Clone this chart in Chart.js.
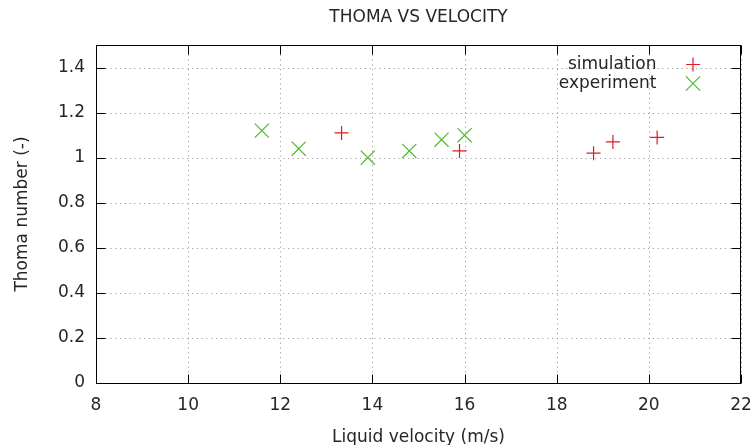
<!DOCTYPE html>
<html>
<head>
<meta charset="utf-8">
<script src="https://cdn.jsdelivr.net/npm/chart.js@4/dist/chart.umd.min.js"></script>
<style>
  html, body { margin: 0; padding: 0; background: #ffffff; }
  #wrap { width: 754px; height: 445px; }
</style>
</head>
<body>
<div id="wrap"><canvas id="c" width="754" height="445"></canvas></div>
<script>
// ---- data ----
const simVelocity = [13.33, 15.89, 18.80, 19.22, 20.18];
const simThoma    = [1.11, 1.03, 1.02, 1.07, 1.09];
const expVelocity = [11.60, 12.40, 13.90, 14.80, 15.50, 16.00];
const expThoma    = [1.12, 1.04, 1.00, 1.03, 1.08, 1.10];

const xTickValues = [8, 10, 12, 14, 16, 18, 20, 22];
const xTickLabels = ['8', '10', '12', '14', '16', '18', '20', '22'];
const yTickValues = [0, 0.2, 0.4, 0.6, 0.8, 1.0, 1.2, 1.4];
const yTickLabels = ['0', '0.2', '0.4', '0.6', '0.8', '1', '1.2', '1.4'];

const seriesLabels = ['simulation', 'experiment'];
const chartTitle = 'THOMA VS VELOCITY';
const xTitle = 'Liquid velocity (m/s)';
const yTitle = 'Thoma number (-)';

const FONT = 'DejaVu Sans';
const TEXT = '#262626';
const RED = 'rgb(222,28,36)';
const GREEN = 'rgb(84,184,48)';

const toPoints = (xs, ys) => xs.map((x, i) => ({ x: x, y: ys[i] }));

const frame = {
  id: 'frame',
  beforeDatasetsDraw(chart) {
    const { ctx, chartArea: a, scales } = chart;
    ctx.save();
    ctx.strokeStyle = '#a0a0a0';
    ctx.lineWidth = 1;
    ctx.setLineDash([1.2, 3.6]);
    scales.x.ticks.forEach(t => {
      const px = Math.round(scales.x.getPixelForValue(t.value)) + 0.5;
      ctx.beginPath(); ctx.moveTo(px, a.top); ctx.lineTo(px, a.bottom); ctx.stroke();
    });
    scales.y.ticks.forEach(t => {
      const py = Math.round(scales.y.getPixelForValue(t.value)) + 0.5;
      ctx.beginPath(); ctx.moveTo(a.left, py); ctx.lineTo(a.right, py); ctx.stroke();
    });
    ctx.restore();
  },
  afterDatasetsDraw(chart) {
    const { ctx, chartArea: a, scales } = chart;
    const L = Math.round(a.left) + 0.5, R = Math.round(a.right) - 0.5;
    const T = Math.round(a.top) + 0.5, B = Math.round(a.bottom) + 0.5;
    const tl = 9;
    ctx.save();
    ctx.strokeStyle = '#000';
    ctx.lineWidth = 1;
    ctx.setLineDash([]);
    ctx.strokeRect(L, T, R - L, B - T);
    ctx.beginPath();
    scales.x.ticks.forEach(t => {
      const px = Math.round(scales.x.getPixelForValue(t.value)) + 0.5;
      ctx.moveTo(px, B); ctx.lineTo(px, B - tl);
      ctx.moveTo(px, T); ctx.lineTo(px, T + tl);
    });
    scales.y.ticks.forEach(t => {
      const py = Math.round(scales.y.getPixelForValue(t.value)) + 0.5;
      ctx.moveTo(L, py); ctx.lineTo(L + tl, py);
      ctx.moveTo(R, py); ctx.lineTo(R - tl, py);
    });
    ctx.stroke();

    // legend (text right-aligned, sample to the right)
    ctx.font = '17px "' + FONT + '"';
    ctx.textAlign = 'right';
    ctx.textBaseline = 'middle';
    const textRight = 656.5, sampleX = 693, y0 = 64.5, dy = 19;
    chart.data.datasets.forEach((ds, i) => {
      const y = y0 + i * dy;
      ctx.fillStyle = TEXT;
      ctx.fillText(ds.label, textRight, y);
      ctx.strokeStyle = ds.borderColor;
      ctx.fillStyle = ds.borderColor;
      ctx.lineWidth = ds.pointBorderWidth;
      Chart.helpers.drawPoint(ctx, {
        pointStyle: ds.pointStyle,
        radius: ds.pointRadius,
        rotation: 0,
        borderWidth: ds.pointBorderWidth
      }, sampleX, y);
    });
    ctx.restore();
  }
};

const noPad = s => { s.paddingLeft = 0; s.paddingRight = 0; s.paddingTop = 0; s.paddingBottom = 0; };

const chart = new Chart(document.getElementById('c'), {
  type: 'scatter',
  data: {
    datasets: [
      {
        label: seriesLabels[0],
        data: toPoints(simVelocity, simThoma),
        pointStyle: 'cross',
        pointRadius: 7,
        pointHoverRadius: 7,
        pointBorderWidth: 1.2,
        borderColor: RED,
        backgroundColor: RED,
        showLine: false
      },
      {
        label: seriesLabels[1],
        data: toPoints(expVelocity, expThoma),
        pointStyle: 'crossRot',
        pointRadius: 10,
        pointHoverRadius: 10,
        pointBorderWidth: 1.2,
        borderColor: GREEN,
        backgroundColor: GREEN,
        showLine: false
      }
    ]
  },
  options: {
    responsive: false,
    animation: false,
    devicePixelRatio: 1,
    events: [],
    layout: { padding: { left: 0, right: 13, top: 0, bottom: 0 } },
    plugins: {
      legend: { display: false },
      tooltip: { enabled: false },
      title: {
        display: true,
        fullSize: false,
        text: chartTitle,
        color: TEXT,
        font: { family: FONT, size: 17, weight: 'normal', lineHeight: 1 },
        padding: { top: 9, bottom: 19 }
      }
    },
    scales: {
      x: {
        type: 'linear',
        position: 'bottom',
        min: 8,
        max: 22,
        afterBuildTicks: s => { s.ticks = xTickValues.map(v => ({ value: v })); },
        afterFit: s => { s.height = 62; noPad(s); },
        grid: { display: false, drawTicks: false },
        border: { display: false },
        ticks: {
          autoSkip: false,
          maxRotation: 0,
          padding: 12,
          color: TEXT,
          font: { family: FONT, size: 17 },
          callback: (v, i) => xTickLabels[i]
        },
        title: {
          display: true,
          text: xTitle,
          color: TEXT,
          font: { family: FONT, size: 17, lineHeight: 1 },
          padding: { top: 0, bottom: -1 }
        }
      },
      y: {
        type: 'linear',
        min: 0,
        max: 1.5,
        afterBuildTicks: s => { s.ticks = yTickValues.map(v => ({ value: v })); },
        afterFit: s => { s.width = 96; noPad(s); },
        grid: { display: false, drawTicks: false },
        border: { display: false },
        ticks: {
          autoSkip: false,
          padding: 11,
          color: TEXT,
          font: { family: FONT, size: 17 },
          callback: (v, i) => yTickLabels[i]
        },
        title: {
          display: true,
          text: yTitle,
          color: TEXT,
          font: { family: FONT, size: 17, lineHeight: 1 },
          padding: { top: 14, bottom: 0 }
        }
      }
    }
  },
  plugins: [frame]
});
</script>
</body>
</html>
